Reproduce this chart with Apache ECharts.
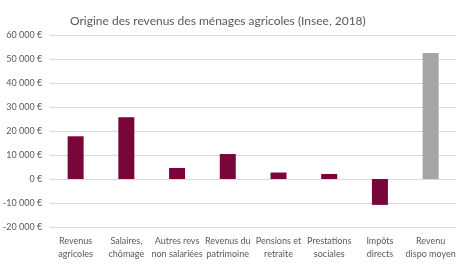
<!DOCTYPE html>
<html><head><meta charset="utf-8">
<script src="https://cdn.jsdelivr.net/npm/echarts@6/dist/echarts.min.js"></script>
<style>html,body{margin:0;padding:0;background:#fff}#c{width:460px;height:264px}</style>
</head><body><div id="c"></div>
<script>
const categories = ["Revenus\nagricoles","Salaires,\nchômage","Autres revs\nnon salariées","Revenus du\npatrimoine","Pensions et\nretraite","Prestations\nsociales","Impôts\ndirects","Revenu\ndispo moyen"];
const values = [17800, 25700, 4600, 10400, 2700, 2100, -10800, 52500];
const highlight = [false,false,false,false,false,false,false,true];
const yMin = -20000, yMax = 60000, yStep = 10000;
const title = "Origine des revenus des ménages agricoles (Insee, 2018)";

const font = "Lato";
const chart = echarts.init(document.getElementById('c'));
chart.setOption({
  animation: false,
  title: { text: title, left: 65, top: 10, textStyle: { fontFamily: font, fontSize: 12, fontWeight: 'normal', color: '#595959' } },
  grid: { left: 48, right: 4, top: 35, bottom: 37, containLabel: false },
  xAxis: {
    type: 'category', data: categories,
    axisLine: { show: false }, axisTick: { show: false },
    axisLabel: { interval: 0, color: '#595959', fontFamily: font, fontSize: 9, lineHeight: 13, margin: 8 }
  },
  yAxis: {
    type: 'value', min: yMin, max: yMax, interval: yStep,
    axisLine: { show: false }, axisTick: { show: false },
    splitLine: { lineStyle: { color: '#D9D9D9', width: 1 } },
    axisLabel: { color: '#595959', fontFamily: font, fontSize: 9, margin: 8,
      formatter: v => (v < 0 ? '-' : '') + Math.abs(v).toLocaleString('fr-FR').replace(/\u202f|\u00a0|,/g, ' ') + ' €' }
  },
  series: [{
    type: 'bar', barWidth: 16,
    data: values.map((v, i) => ({ value: v, itemStyle: { color: highlight[i] ? '#A5A5A5' : '#78063A' } }))
  }]
});
</script></body></html>
